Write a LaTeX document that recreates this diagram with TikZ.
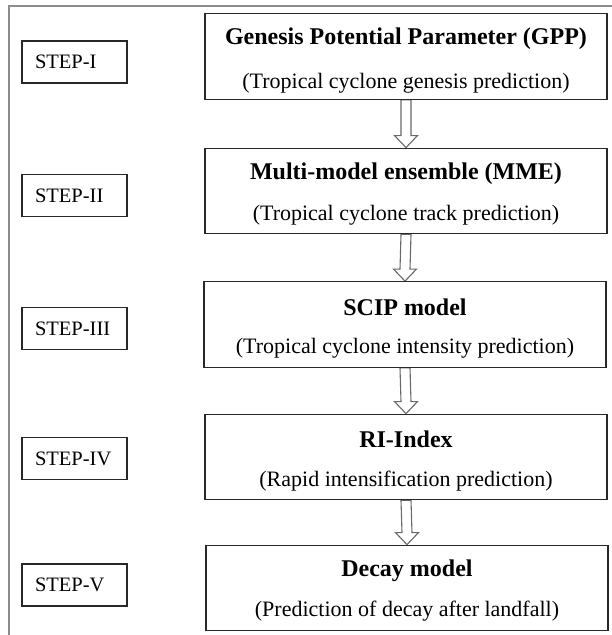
\documentclass[tikz,border=0pt]{standalone}
\usepackage{fontspec}
\setmainfont{Liberation Serif}
\usetikzlibrary{calc,positioning,backgrounds}
\definecolor{framegray}{RGB}{140,140,140}
\definecolor{boxline}{RGB}{40,40,40}
\definecolor{arrowgray}{RGB}{105,105,105}

\begin{document}
\begin{tikzpicture}[x=1pt, y=-1pt,
    mainbox/.style={draw=boxline, line width=1.3pt, minimum width=402pt, minimum height=85.5pt, inner sep=0pt},
    stepbox/.style={draw=boxline, line width=1.1pt, text width=79pt, align=left, inner xsep=13pt, minimum height=42pt, inner ysep=0pt, font=\fontsize{20.5}{24}\selectfont},
    headtext/.style={font=\fontsize{24}{28}\selectfont\bfseries, inner sep=0pt},
    subtext/.style={font=\fontsize{22}{26}\selectfont, inner sep=0pt},
    blockarrow/.style={draw=arrowgray, line width=1.1pt, fill=white, line join=miter}]
  \useasboundingbox (0,0) rectangle (612,635);
  % outer frame (cut off at right and bottom)
  \draw[framegray, line width=2.5pt] (9,645) -- (9,6) -- (625,6);
  % prediction stages
  \node[mainbox] (gpp) at (406,56.5) {};
  \node[headtext] (gpp-t) at ([yshift=-26pt]gpp.north) {Genesis Potential Parameter (GPP)};
  \node[subtext] (gpp-s) at ([yshift=-70pt]gpp.north) {(Tropical cyclone genesis prediction)};
  \node[mainbox] (mme) at (406,191) {};
  \node[headtext] (mme-t) at ([yshift=-26pt]mme.north) {Multi-model ensemble (MME)};
  \node[subtext] (mme-s) at ([yshift=-68pt]mme.north) {(Tropical cyclone track prediction)};
  \node[mainbox] (scip) at (405,324.5) {};
  \node[headtext] (scip-t) at ([yshift=-26pt]scip.north) {SCIP model};
  \node[subtext] (scip-s) at ([yshift=-67pt]scip.north) {(Tropical cyclone intensity prediction)};
  \node[mainbox] (ri) at (406,457) {};
  \node[headtext] (ri-t) at ([yshift=-26pt]ri.north) {RI-Index};
  \node[subtext] (ri-s) at ([yshift=-67pt]ri.north) {(Rapid intensification prediction)};
  \node[mainbox] (decay) at (407,588) {};
  \node[headtext] (decay-t) at ([yshift=-26pt]decay.north) {Decay model};
  \node[subtext] (decay-s) at ([yshift=-67pt]decay.north) {(Prediction of decay after landfall)};
  % step labels
  \node[stepbox] (s1) at (74.5,62) {STEP-I};
  \node[stepbox] (s2) at (74.5,195.5) {STEP-II};
  \node[stepbox] (s3) at (74.5,328.5) {STEP-III};
  \node[stepbox] (s4) at (74.5,458.5) {STEP-IV};
  \node[stepbox] (s5) at (74.5,585) {STEP-V};
  % hollow block arrows between stages
  \begin{scope}[on background layer]
    \foreach \a/\b in {gpp/mme, mme/scip, scip/ri, ri/decay}
      \draw[blockarrow] ($(\a.south)+(-5,0)$) -- ($(\b.north)+(-5,-12)$) -- ($(\b.north)+(-11.5,-12)$)
        -- (\b.north) -- ($(\b.north)+(11.5,-12)$) -- ($(\b.north)+(5,-12)$) -- ($(\a.south)+(5,0)$) -- cycle;
  \end{scope}
\end{tikzpicture}
\end{document}
